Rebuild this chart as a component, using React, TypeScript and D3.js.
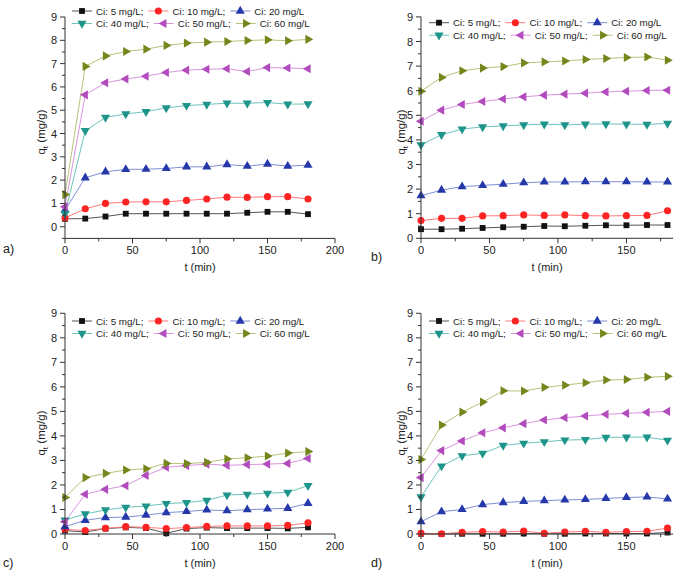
import React from "react";
import * as d3 from "d3";

// Sampling times (min)
const TIME = [0, 15, 30, 45, 60, 75, 90, 105, 120, 135, 150, 165, 180];

// Series labels and symbols, in legend order
const SERIES_LABELS = ["Ci: 5 mg/L;", "Ci: 10 mg/L;", "Ci: 20 mg/L", "Ci: 40 mg/L;", "Ci: 50 mg/L;", "Ci: 60 mg/L"];
const MARKER_COLORS = ["#111111", "#ff2424", "#2438aa", "#1e958a", "#b24cbe", "#76861c"];
const LINE_COLORS = ["#555555", "#ff7a7a", "#7f8fd6", "#6cc4ba", "#d996dd", "#b9c27a"];

// Panel a) q_t (mg/g)
const A_5 = [0.34, 0.35, 0.44, 0.56, 0.56, 0.56, 0.56, 0.56, 0.56, 0.6, 0.64, 0.64, 0.54];
const A_10 = [0.38, 0.77, 1.0, 1.06, 1.07, 1.07, 1.13, 1.19, 1.27, 1.26, 1.29, 1.29, 1.19];
const A_20 = [0.71, 2.1, 2.36, 2.46, 2.47, 2.5, 2.57, 2.57, 2.67, 2.6, 2.69, 2.6, 2.64];
const A_40 = [0.57, 4.12, 4.69, 4.84, 4.94, 5.1, 5.2, 5.25, 5.3, 5.3, 5.33, 5.26, 5.27];
const A_50 = [0.86, 5.66, 6.18, 6.34, 6.46, 6.62, 6.72, 6.76, 6.78, 6.66, 6.83, 6.81, 6.78];
const A_60 = [1.38, 6.88, 7.33, 7.52, 7.62, 7.78, 7.88, 7.92, 7.95, 7.99, 8.02, 7.98, 8.04];

// Panel b)
const B_5 = [0.37, 0.37, 0.39, 0.42, 0.45, 0.47, 0.5, 0.49, 0.51, 0.53, 0.53, 0.54, 0.54];
const B_10 = [0.72, 0.81, 0.81, 0.91, 0.92, 0.95, 0.93, 0.95, 0.92, 0.91, 0.92, 0.93, 1.12];
const B_20 = [1.73, 1.96, 2.1, 2.15, 2.2, 2.26, 2.29, 2.29, 2.3, 2.3, 2.3, 2.29, 2.29];
const B_40 = [3.8, 4.21, 4.44, 4.53, 4.57, 4.61, 4.64, 4.61, 4.64, 4.65, 4.64, 4.63, 4.67];
const B_50 = [4.76, 5.21, 5.44, 5.56, 5.66, 5.75, 5.82, 5.86, 5.9, 5.95, 5.98, 6.01, 6.02];
const B_60 = [5.98, 6.54, 6.81, 6.92, 6.98, 7.13, 7.17, 7.21, 7.27, 7.31, 7.35, 7.37, 7.24];

// Panel c)
const C_5 = [0.14, 0.08, 0.22, 0.27, 0.24, 0.03, 0.22, 0.26, 0.24, 0.24, 0.24, 0.23, 0.27];
const C_10 = [0.19, 0.14, 0.23, 0.3, 0.27, 0.22, 0.26, 0.31, 0.33, 0.33, 0.33, 0.35, 0.46];
const C_20 = [0.3, 0.56, 0.67, 0.69, 0.77, 0.87, 0.92, 0.98, 0.95, 0.99, 1.02, 1.05, 1.25];
const C_40 = [0.57, 0.82, 0.98, 1.09, 1.14, 1.24, 1.28, 1.37, 1.59, 1.62, 1.66, 1.7, 1.97];
const C_50 = [0.5, 1.62, 1.82, 1.97, 2.39, 2.72, 2.79, 2.85, 2.8, 2.83, 2.85, 2.88, 3.08];
const C_60 = [1.49, 2.3, 2.47, 2.61, 2.66, 2.88, 2.87, 2.92, 3.06, 3.11, 3.18, 3.3, 3.36];

// Panel d)
const D_5 = [0.01, 0.0, 0.01, 0.01, 0.01, 0.02, 0.01, 0.01, 0.02, 0.02, 0.02, 0.02, 0.06];
const D_10 = [0.03, 0.01, 0.07, 0.1, 0.08, 0.12, 0.03, 0.08, 0.11, 0.07, 0.1, 0.11, 0.24];
const D_20 = [0.5, 0.91, 1.0, 1.2, 1.28, 1.33, 1.36, 1.39, 1.41, 1.45, 1.49, 1.51, 1.43];
const D_40 = [1.51, 2.77, 3.19, 3.29, 3.61, 3.7, 3.76, 3.83, 3.85, 3.94, 3.95, 3.95, 3.82];
const D_50 = [2.3, 3.4, 3.79, 4.13, 4.33, 4.5, 4.65, 4.74, 4.81, 4.88, 4.92, 4.96, 5.0];
const D_60 = [3.04, 4.44, 4.97, 5.38, 5.84, 5.83, 5.98, 6.07, 6.17, 6.28, 6.3, 6.39, 6.43];

const X_TICKS_FULL = [0, 50, 100, 150, 200];
const X_TICKS_SHORT = [0, 50, 100, 150];
const Y_TICKS = [0, 1, 2, 3, 4, 5, 6, 7, 8, 9];

const FONT = "'Liberation Sans', Arial, sans-serif";

// Arial advance widths (per em) for the legend strings
const CHAR_W: Record<string, number> = {
  C: 0.722, i: 0.222, ":": 0.278, " ": 0.278, m: 0.833, g: 0.556, "/": 0.278, L: 0.556, ";": 0.278,
};
const textWidth = (s: string, size: number) =>
  s.split("").reduce((w, ch) => w + (CHAR_W[ch] ?? 0.556), 0) * size;

// Marker paths: square, circle, triangles up / down / left / right
const symbolGen = (i: number) => {
  const types = [d3.symbolSquare, d3.symbolCircle, d3.symbolTriangle, d3.symbolTriangle, d3.symbolTriangle, d3.symbolTriangle];
  const sizes = [34, 40, 36, 36, 36, 36];
  return d3.symbol().type(types[i]).size(sizes[i])() as string;
};
const SYMBOL_ROT = [0, 0, 0, 180, -90, 90];

const Marker = ({ i, x, y }: { i: number; x: number; y: number }) => (
  <path
    d={symbolGen(i)}
    transform={`translate(${x},${y}) rotate(${SYMBOL_ROT[i]})`}
    fill={MARKER_COLORS[i]}
  />
);

type PanelProps = {
  series: number[][];
  xDomain: [number, number];
  xRange: [number, number];
  yDomain: [number, number];
  yRange: [number, number];
  xTicks: number[];
  legendX: number;
  legendY: number;
  yLabelX: number;
  yLabelY: number;
  tag: string;
  tagX: number;
  tagY: number;
};

const Panel = (p: PanelProps) => {
  const x = d3.scaleLinear().domain(p.xDomain).range(p.xRange);
  const y = d3.scaleLinear().domain(p.yDomain).range(p.yRange);
  const x0 = p.xRange[0];
  const yAxis = p.yRange[0];
  const axisColor = "#333";

  const minorX: number[] = [];
  for (let t = 25; t <= p.xDomain[1]; t += 50) minorX.push(t);
  const minorY: number[] = [];
  for (let v = Math.ceil(p.yDomain[0] * 2) / 2; v <= p.yDomain[1]; v += 0.5) {
    if (Math.abs(v - Math.round(v)) > 0.1) minorY.push(v);
  }

  const line = d3
    .line<number>()
    .x((_, k) => x(TIME[k]))
    .y((v) => y(v));

  // Legend layout: two rows of three entries, flowing by text width
  const fs = 9.8;
  const legendItems: { i: number; lx: number; ly: number }[] = [];
  for (let row = 0; row < 2; row++) {
    let cx = p.legendX;
    for (let c = 0; c < 3; c++) {
      const i = row * 3 + c;
      legendItems.push({ i, lx: cx, ly: p.legendY + row * 12.5 });
      cx += 24 + textWidth(SERIES_LABELS[i], fs) + 5;
    }
  }

  return (
    <g fontFamily={FONT}>
      {/* data */}
      {p.series.map((vals, i) => (
        <path key={`l${i}`} d={line(vals) as string} fill="none" stroke={LINE_COLORS[i]} strokeWidth={1} />
      ))}
      {p.series.map((vals, i) =>
        vals.map((v, k) => <Marker key={`m${i}-${k}`} i={i} x={x(TIME[k])} y={y(v)} />)
      )}

      {/* axes */}
      <line x1={x0} x2={p.xRange[1]} y1={yAxis} y2={yAxis} stroke={axisColor} strokeWidth={1} />
      <line x1={x0} x2={x0} y1={yAxis} y2={p.yRange[1]} stroke={axisColor} strokeWidth={1} />
      {p.xTicks.map((t) => (
        <g key={`xt${t}`}>
          <line x1={x(t)} x2={x(t)} y1={yAxis} y2={yAxis + 5} stroke={axisColor} />
          <text x={x(t)} y={yAxis + 16} textAnchor="middle" fontSize={11} fill="#222">
            {t}
          </text>
        </g>
      ))}
      {minorX.map((t) => (
        <line key={`xm${t}`} x1={x(t)} x2={x(t)} y1={yAxis} y2={yAxis + 3} stroke={axisColor} />
      ))}
      {Y_TICKS.map((v) => (
        <g key={`yt${v}`}>
          <line x1={x0 - 5} x2={x0} y1={y(v)} y2={y(v)} stroke={axisColor} />
          <text x={x0 - 8} y={y(v) + 4} textAnchor="end" fontSize={11} fill="#222">
            {v}
          </text>
        </g>
      ))}
      {minorY.map((v) => (
        <line key={`ym${v}`} x1={x0 - 3} x2={x0} y1={y(v)} y2={y(v)} stroke={axisColor} />
      ))}

      {/* axis titles */}
      <text
        x={(p.xRange[0] + p.xRange[1]) / 2 + 0}
        y={yAxis + 33}
        textAnchor="middle"
        fontSize={11}
        fill="#222"
      >
        t (min)
      </text>
      <text
        transform={`translate(${p.yLabelX},${p.yLabelY}) rotate(-90)`}
        textAnchor="middle"
        fontSize={11.5}
        fill="#222"
      >
        q<tspan fontSize={8} dy={3}>t</tspan>
        <tspan dy={-3}> (mg/g)</tspan>
      </text>

      {/* legend */}
      {legendItems.map(({ i, lx, ly }) => (
        <g key={`lg${i}`}>
          <line x1={lx} x2={lx + 20} y1={ly} y2={ly} stroke={LINE_COLORS[i]} strokeWidth={1} />
          <Marker i={i} x={lx + 10} y={ly} />
          <text x={lx + 24} y={ly + 3.5} fontSize={fs} fill="#222">
            {SERIES_LABELS[i]}
          </text>
        </g>
      ))}

      <text x={p.tagX} y={p.tagY} fontSize={12.5} fill="#222">
        {p.tag}
      </text>
    </g>
  );
};

export default function App() {
  return (
    <svg width={681} height={572} style={{ display: "block", position: "absolute", left: 0, top: 0, background: "#fff" }}>
      <rect width={681} height={572} fill="#fff" />
      <Panel
        series={[A_5, A_10, A_20, A_40, A_50, A_60]}
        xDomain={[0, 200]}
        xRange={[65, 335]}
        yDomain={[-0.5, 9]}
        yRange={[238.4, 17]}
        xTicks={X_TICKS_FULL}
        legendX={72}
        legendY={11}
        yLabelX={45}
        yLabelY={132}
        tag="a)"
        tagX={3}
        tagY={253}
      />
      <Panel
        series={[B_5, B_10, B_20, B_40, B_50, B_60]}
        xDomain={[0, 184]}
        xRange={[421, 673]}
        yDomain={[0, 9]}
        yRange={[238.3, 16.9]}
        xTicks={X_TICKS_SHORT}
        legendX={429}
        legendY={22.7}
        yLabelX={405}
        yLabelY={132}
        tag="b)"
        tagX={371}
        tagY={261}
      />
      <Panel
        series={[C_5, C_10, C_20, C_40, C_50, C_60]}
        xDomain={[0, 200]}
        xRange={[65, 335]}
        yDomain={[0, 9]}
        yRange={[534, 313.3]}
        xTicks={X_TICKS_FULL}
        legendX={72}
        legendY={321}
        yLabelX={45}
        yLabelY={433}
        tag="c)"
        tagX={3}
        tagY={567}
      />
      <Panel
        series={[D_5, D_10, D_20, D_40, D_50, D_60]}
        xDomain={[0, 184]}
        xRange={[421, 673]}
        yDomain={[0, 9]}
        yRange={[534, 313.3]}
        xTicks={X_TICKS_SHORT}
        legendX={429}
        legendY={321}
        yLabelX={405}
        yLabelY={433}
        tag="d)"
        tagX={371}
        tagY={567}
      />
    </svg>
  );
}
